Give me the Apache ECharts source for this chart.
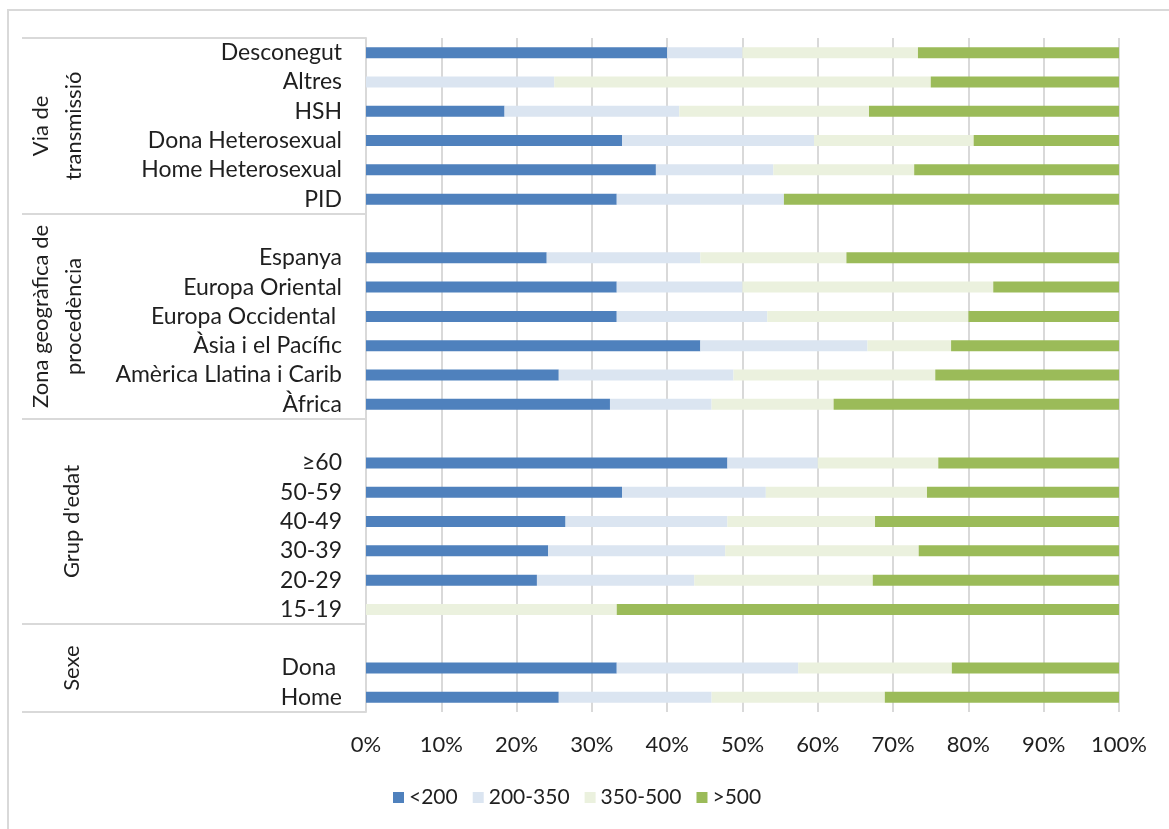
<!DOCTYPE html>
<html>
<head>
<meta charset="utf-8">
<script src="https://cdn.jsdelivr.net/npm/echarts@6/dist/echarts.min.js"></script>
<style>
html,body{margin:0;padding:0;background:#fff;}
#chart{width:1169px;height:829px;}
</style>
</head>
<body>
<div id="chart"></div>
<script>
// Categories (top to bottom); blank rows separate the groups
const categories = ['Desconegut','Altres','HSH','Dona Heterosexual','Home Heterosexual','PID',
  ' ','Espanya','Europa Oriental','Europa Occidental ','Àsia i el Pacífic','Amèrica Llatina i Carib','Àfrica',
  '  ','≥60','50-59','40-49','30-39','20-29','15-19',
  '   ','Dona ','Home'];
const seriesNames = ['<200','200-350','350-500','>500'];
const lt200   = [40.0, 0,    18.4, 34.0, 38.5, 33.3, null, 24.0, 33.3, 33.3, 44.4, 25.6, 32.4, null, 48.0, 34.0, 26.5, 24.2, 22.7, 0,    null, 33.3, 25.6];
const r200350 = [10.0, 25.0, 23.2, 25.5, 15.6, 22.2, null, 20.4, 16.7, 20.0, 22.2, 23.2, 13.5, null, 12.0, 19.1, 21.5, 23.5, 20.9, 0,    null, 24.1, 20.3];
const r350500 = [23.3, 50.0, 25.2, 21.2, 18.7, 0,    null, 19.4, 33.3, 26.7, 11.1, 26.8, 16.2, null, 16.0, 21.4, 19.6, 25.7, 23.7, 33.3, null, 20.4, 23.0];
const gt500   = [26.7, 25.0, 33.2, 19.3, 27.2, 44.5, null, 36.2, 16.7, 20.0, 22.3, 24.4, 37.9, null, 24.0, 25.5, 32.4, 26.6, 32.7, 66.7, null, 22.2, 31.1];
const tickLabels = ['0%','10%','20%','30%','40%','50%','60%','70%','80%','90%','100%'];
// Groups: [label lines, first category index, last category index (exclusive)]
const groups = [
  [['Via de','transmissió'], 0, 6],
  [['Zona geogràfica de','procedència'], 6, 13],
  [["Grup d'edat"], 13, 20],
  [['Sexe'], 20, 23]
];
const colors = ['#4F81BD','#DBE5F1','#EBF1DE','#9BBB59'];
const FONT = 'Lato';
const TXT = '#1f1f1f';

const chart = echarts.init(document.getElementById('chart'));
const values = [lt200, r200350, r350500, gt500];
chart.setOption({
  animation: false,
  color: colors,
  textStyle: {fontFamily: FONT},
  grid: {left: 366, right: 50, top: 38, bottom: 117},
  xAxis: {
    type: 'value', min: 0, max: 100, interval: 10,
    axisLine: {show: false}, axisTick: {show: false},
    splitLine: {show: true, lineStyle: {color: '#D9D9D9', width: 2}},
    axisLabel: {fontSize: 22, color: TXT, fontFamily: FONT, margin: 22,
      formatter: v => tickLabels[Math.round(v / 10)]}
  },
  yAxis: {
    type: 'category', inverse: true, data: categories,
    axisLine: {show: true, lineStyle: {color: '#D9D9D9', width: 2}},
    axisTick: {show: false},
    axisLabel: {interval: 0, fontSize: 23, color: TXT, fontFamily: FONT, margin: 24, padding: [5, 0, 0, 0]}
  },
  legend: {
    bottom: 16, left: 388, itemWidth: 11, itemHeight: 11, itemGap: 15,
    icon: 'rect',
    textStyle: {fontSize: 21, color: TXT, fontFamily: FONT},
    data: seriesNames
  },
  series: seriesNames.map((n, i) => ({
    name: n, type: 'bar', stack: 'total', barWidth: 11,
    data: values[i], itemStyle: {color: colors[i]}
  }))
});

// Decorations derived from the axes: group separator lines and rotated group titles
const yc = i => chart.convertToPixel({yAxisIndex: 0}, i);
const band = yc(1) - yc(0);
const bound = k => (k < categories.length ? yc(k) - band / 2 : yc(k - 1) + band / 2);
const x0 = chart.convertToPixel({xAxisIndex: 0}, 0);
const gfx = [];
gfx.push({type: 'rect', silent: true, shape: {x: 8, y: 10, width: 1200, height: 900},
  style: {fill: 'none', stroke: '#D9D9D9', lineWidth: 2}, z: 0});
const bounds = [0];
groups.forEach(g => bounds.push(g[2]));
bounds.forEach(k => {
  const y = Math.round(bound(k));
  gfx.push({type: 'line', silent: true, shape: {x1: 22, y1: y, x2: x0, y2: y},
    style: {stroke: '#D9D9D9', lineWidth: 2}, z: 10});
});
groups.forEach(g => {
  const cy = (bound(g[1]) + bound(g[2])) / 2;
  const two = g[0].length > 1;
  gfx.push({type: 'text', silent: true, x: two ? 57 : 72, y: cy, rotation: Math.PI / 2,
    style: {text: g[0].join('\n'), fontSize: 22, fontFamily: FONT, fill: TXT,
      align: 'center', verticalAlign: 'middle', lineHeight: 33}, z: 10});
});
chart.setOption({graphic: gfx});
</script>
</body>
</html>
